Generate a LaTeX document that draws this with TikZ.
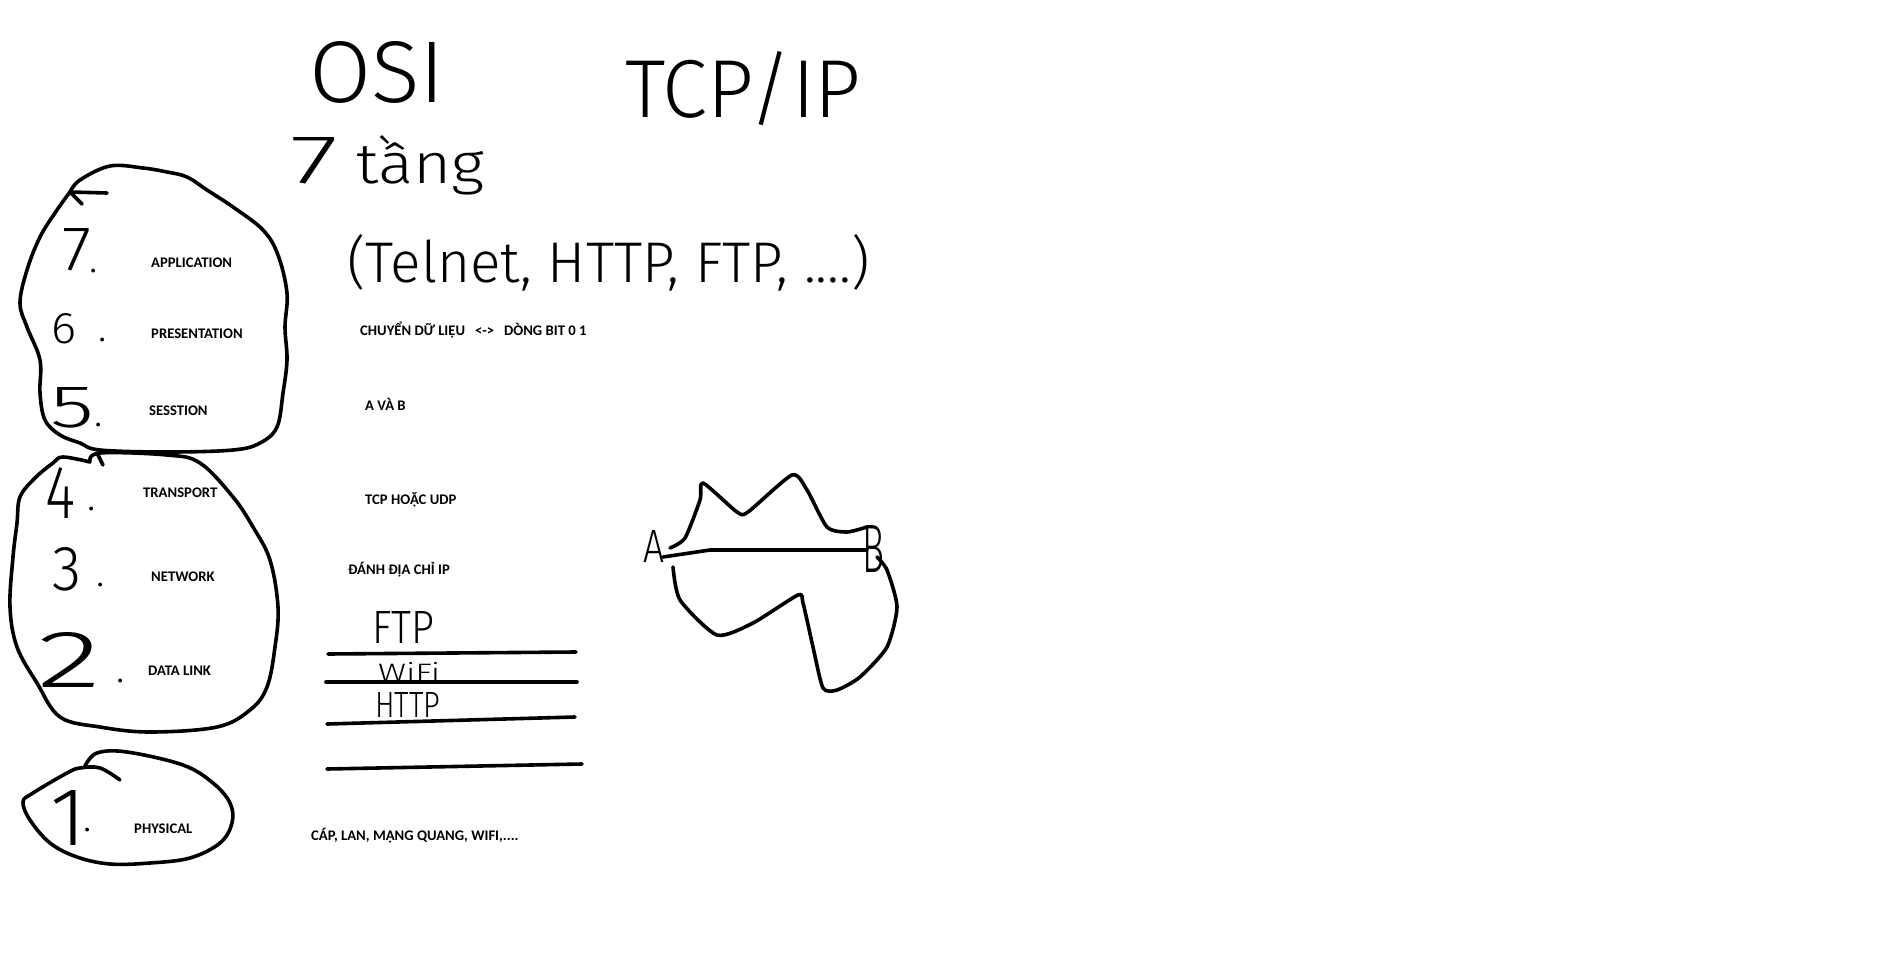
\documentclass[tikz,border=0pt]{standalone}
\usepackage{fontspec}
\usepackage{graphicx}
\setmainfont{Carlito}
\IfFontExistsTF{Fira Sans Light}{\newfontfamily\handfont{Fira Sans Light}}{\newfontfamily\handfont{Liberation Sans}}
\newcommand\handfit[3]{\resizebox{#1pt}{#2pt}{#3}}
\tikzset{
  ink/.style={line width=3.6pt, line cap=round, line join=round, black},
  printed/.style={font=\fontsize{14.67}{16}\selectfont\bfseries, inner sep=0pt, anchor=base west, text=black},
  hand/.style={font=\handfont, inner sep=0pt, anchor=base west, text=black},
  dotmark/.style={font=\handfont\fontsize{40}{40}\selectfont, inner sep=0pt, anchor=base, text=black},
  blob/.style={ink, smooth, tension=0.6}
}
\begin{document}
\begin{tikzpicture}[x=1pt,y=-1pt]
\useasboundingbox (0,0) rectangle (1880,955);
\fill[white] (0,0) rectangle (1880,955);

% ---------- headings ----------
\node[hand] (osi) at (309,103) {\handfit{136}{61}{OSI}};
\node[hand] (tcpip) at (625,118) {\handfit{236}{66}{TCP/IP}};
\node[hand] (seven) at (290,183) {\handfit{48}{46}{7}};
\node[hand] (tang) at (356,183) {\handfit{128}{48}{tầng}};
\node[hand] (proto) at (347,282) {\handfit{522}{48}{(Telnet, HTTP, FTP, ....)}};

% ---------- blobs ----------
\draw[blob] plot coordinates {(70,192) (80,180) (110,166) (143,168) (167,172) (187,177) (207,190) (233,207) (263,230) (278,255) (287,293) (285,327) (287,360) (283,393) (277,427) (260,443) (233,450) (167,452) (100,450) (80,443) (60,435) (45,420) (40,393) (40,360) (27,327) (20,303) (27,270) (40,237) (57,210) (70,192)};
\draw[ink] (107,193) -- (70,192) -- (82,204);

\draw[blob] plot coordinates {(90,462) (100,453) (167,455) (200,463) (233,497) (253,527) (270,560) (278,607) (275,647) (267,687) (250,710) (217,727) (150,732) (100,727) (60,717) (37,683) (17,647) (10,607) (13,557) (17,523) (20,497) (35,478) (53,463) (63,457) (90,462)};
\draw[ink] (97,453) -- (103,465);

\draw[blob] plot coordinates {(120,780) (100,768) (80,768) (67,773) (33,793) (23,802) (30,820) (50,843) (77,857) (110,864) (150,863) (190,858) (220,843) (232,823) (230,803) (213,783) (183,765) (127,752) (97,753) (85,766)};

% ---------- layer numbers ----------
\node[hand] (n7) at (62,270) {\handfit{29}{42}{7}};
\node[dotmark] (d7) at (94,272) {.};
\node[hand] (n6) at (51,343) {\handfit{25}{30}{6}};
\node[dotmark] (d6) at (103,341) {.};
\node[hand] (n5) at (50,427) {\handfit{44}{40}{5}};
\node[dotmark] (d5) at (99,426) {.};
\node[hand] (n4) at (45,518) {\handfit{30}{51}{4}};
\node[dotmark] (d4) at (92,510) {.};
\node[hand] (n3) at (52,590) {\handfit{29}{43}{3}};
\node[dotmark] (d3) at (101,586) {.};
\node[hand] (n2) at (37,687) {\handfit{64}{55}{2}};
\node[dotmark] (d2) at (121,682) {.};
\node[hand] (n1) at (50,845) {\handfit{36}{55}{1}};
\node[dotmark] (d1) at (88,831) {.};

% ---------- layer names ----------
\node[printed] (app) at (151,267) {APPLICATION};
\node[printed] (pre) at (151,338) {PRESENTATION};
\node[printed] (ses) at (149,415) {SESSTION};
\node[printed] (tra) at (143,497) {TRANSPORT};
\node[printed] (net) at (151,581) {NETWORK};
\node[printed] (dl) at (148,675) {DATA LINK};
\node[printed] (phy) at (134,833) {PHYSICAL};

% ---------- notes ----------
\node[printed] (conv) at (360,335) {CHUYỂN DỮ LIỆU\ \ \ <->\ \ \ DÒNG BIT 0 1};
\node[printed] (avb) at (365,410) {A VÀ B};
\node[printed] (tcpudp) at (365,504) {TCP HOẶC UDP};
\node[printed] (ip) at (348,574) {ĐÁNH ĐỊA CHỈ IP};
\node[printed] (cap) at (311,840) {CÁP, LAN, MẠNG QUANG, WIFI,....};

% ---------- ruled lines ----------
\node[hand] (ftp) at (372,643) {\handfit{62}{32}{FTP}};
\node[hand] (wifi) at (378,681) {\handfit{62}{19}{WiFi}};
\node[hand] (http) at (375,717) {\handfit{65}{25}{HTTP}};
\draw[ink] (328,654) -- (576,652);
\draw[ink] (326,682) -- (577,682);
\draw[ink] (327,724) -- (575,717);
\draw[ink] (327,769) -- (582,764);

% ---------- A / B paths ----------
\node[hand] (A) at (643,562) {\handfit{21}{32}{A}};
\node[hand] (B) at (862,572) {\handfit{22}{47}{B}};
\coordinate (a1) at (663,557);
\coordinate (b1) at (867,550);
\draw[ink] (a1) -- (710,550) -- (b1);
\draw[ink, smooth, tension=0.4] plot coordinates {(670,548) (685,538) (700,500) (703,483) (737,512) (748,512) (792,475) (807,490) (827,527) (847,532) (867,527)};
\draw[ink, smooth, tension=0.4] plot coordinates {(673,567) (680,600) (717,635) (753,623) (798,595) (803,603) (813,647) (823,688) (837,690) (860,677) (887,647) (897,607) (887,570) (877,557)};
\end{tikzpicture}
\end{document}
